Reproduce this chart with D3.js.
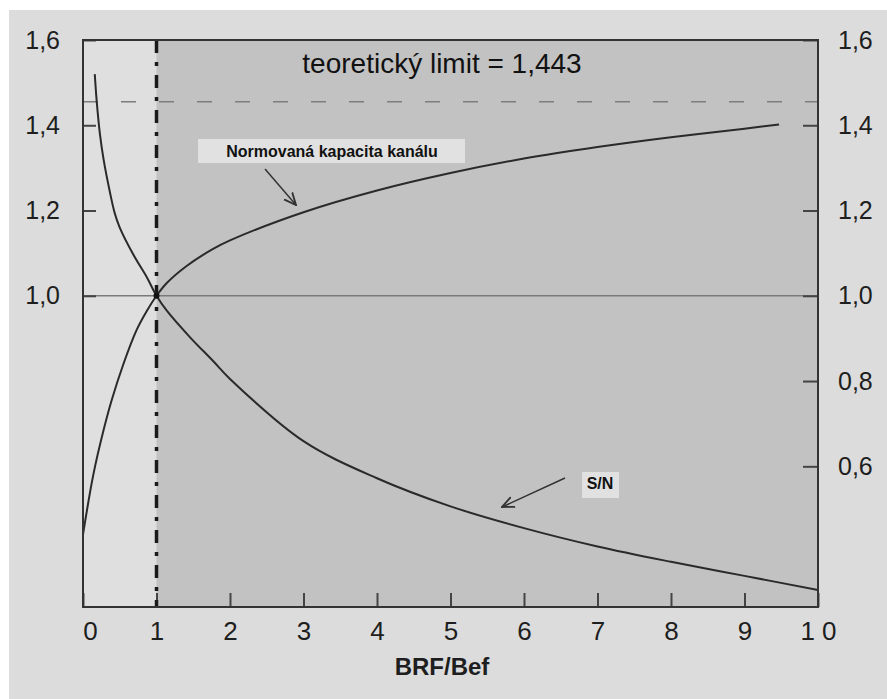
<!DOCTYPE html>
<html>
<head>
<meta charset="utf-8">
<script src="https://cdn.jsdelivr.net/npm/d3@7"></script>
<style>
  body { margin: 0; background: #fff; }
  svg { display: block; font-family: "Liberation Sans", Arial, sans-serif; }
  .axis text { fill: #1e1e1e; }
</style>
</head>
<body>
<svg id="chart" width="887" height="699"></svg>
<script>
// values
var xTicks = [0, 1, 2, 3, 4, 5, 6, 7, 8, 9, 10];
var xTickLabels = ["0", "1", "2", "3", "4", "5", "6", "7", "8", "9", "1 0"];
var leftTicks = [1.0, 1.2, 1.4, 1.6];
var rightTicks = [0.6, 0.8, 1.0, 1.2, 1.4, 1.6];

// normovana kapacita kanalu
var capX = [0, 0.14, 0.28, 0.39, 0.55, 0.73, 0.87, 1.0, 1.14, 1.41, 1.77, 2, 3, 4, 5, 6, 7, 8, 9, 9.47];
var capY = [0.44, 0.58, 0.685, 0.755, 0.84, 0.92, 0.965, 1.0, 1.03, 1.07, 1.11, 1.13, 1.196, 1.247, 1.288, 1.322, 1.349, 1.372, 1.392, 1.402];

// S/N
var snrX = [0.16, 0.18, 0.2, 0.23, 0.28, 0.37, 0.43, 0.5, 0.69, 0.87, 1.0, 1.14, 1.46, 1.77, 2, 3, 4, 5, 6, 7, 8, 9, 10];
var snrY = [1.52, 1.47, 1.43, 1.38, 1.32, 1.24, 1.195, 1.16, 1.095, 1.043, 1.0, 0.965, 0.902, 0.847, 0.805, 0.659, 0.572, 0.506, 0.455, 0.412, 0.376, 0.343, 0.31];

var limitValue = 1.455;   // where the dashed line sits
var bandStart = 1;        // dash-dot marker / shaded band

var svg = d3.select("#chart");

// (window.top is read only, so no plain "top" here)
var pLeft = 83, pRight = 818, pTop = 40, pBottom = 607;

var x = d3.scaleLinear().domain([0, 10]).range([pLeft, pRight]);
var y = d3.scaleLinear().domain([0.27, 1.6]).range([pBottom, pTop]);

var cz = d3.formatLocale({ decimal: ",", thousands: " ", grouping: [3], currency: ["", " Kč"] });
var fmt = cz.format(".1f");

// background
svg.append("rect")
    .attr("x", 9).attr("y", 10)
    .attr("width", 887 - 9).attr("height", 699 - 10)
    .attr("fill", "#dcdcdc");

// plot area - light part then shaded part
svg.append("rect")
    .attr("x", x(0)).attr("y", pTop)
    .attr("width", x(bandStart) - x(0)).attr("height", pBottom - pTop)
    .attr("fill", "#dfdfdf");

svg.append("rect")
    .attr("x", x(bandStart)).attr("y", pTop)
    .attr("width", x(10) - x(bandStart)).attr("height", pBottom - pTop)
    .attr("fill", "#c2c2c2");

// horizontal line at 1,0
svg.append("line")
    .attr("x1", x(0)).attr("x2", x(10))
    .attr("y1", y(1)).attr("y2", y(1))
    .attr("stroke", "#7a7a7a")
    .attr("stroke-width", 1.6);

// dashed theoretical limit
svg.append("line")
    .attr("x1", x(0)).attr("x2", x(10))
    .attr("y1", y(limitValue)).attr("y2", y(limitValue))
    .attr("stroke", "#7d7d7d")
    .attr("stroke-width", 1.6)
    .attr("stroke-dasharray", "15,23");

// axes
var xAxis = d3.axisBottom(x)
    .tickValues(xTicks)
    .tickSize(-14)
    .tickPadding(15)
    .tickFormat(function(d, i) { return xTickLabels[i]; });

var gx = svg.append("g")
    .attr("class", "axis")
    .attr("transform", "translate(0," + pBottom + ")")
    .call(xAxis);
gx.selectAll("text").attr("font-size", 26).attr("dx", function(d) { return d === 0 ? 7 : 0; });

var gl = svg.append("g")
    .attr("class", "axis")
    .attr("transform", "translate(" + pLeft + ",0)")
    .call(d3.axisLeft(y).tickValues(leftTicks).tickSize(-13).tickPadding(23).tickFormat(fmt));
gl.selectAll("text").attr("font-size", 25);

var gr = svg.append("g")
    .attr("class", "axis")
    .attr("transform", "translate(" + pRight + ",0)")
    .call(d3.axisRight(y).tickValues(rightTicks).tickSize(-15).tickPadding(20).tickFormat(fmt));
gr.selectAll("text").attr("font-size", 25);

svg.selectAll(".axis .domain").remove();
svg.selectAll(".axis line").attr("stroke", "#444").attr("stroke-width", 2);

// dash-dot line at x = 1
svg.append("line")
    .attr("x1", x(bandStart)).attr("x2", x(bandStart))
    .attr("y1", pTop).attr("y2", pBottom)
    .attr("stroke", "#1a1a1a")
    .attr("stroke-width", 3.5)
    .attr("stroke-dasharray", "13,9,4,9");

// curves
var line = d3.line()
    .x(function(d) { return x(d[0]); })
    .y(function(d) { return y(d[1]); })
    .curve(d3.curveCatmullRom.alpha(0.5));

svg.append("path")
    .datum(d3.zip(capX, capY))
    .attr("d", line)
    .attr("fill", "none")
    .attr("stroke", "#2a2a2a")
    .attr("stroke-width", 2);

svg.append("path")
    .datum(d3.zip(snrX, snrY))
    .attr("d", line)
    .attr("fill", "none")
    .attr("stroke", "#2a2a2a")
    .attr("stroke-width", 2);

svg.append("circle")
    .attr("cx", x(1)).attr("cy", y(1)).attr("r", 3)
    .attr("fill", "#111");

// frame
svg.append("rect")
    .attr("x", pLeft).attr("y", pTop)
    .attr("width", pRight - pLeft).attr("height", pBottom - pTop)
    .attr("fill", "none")
    .attr("stroke", "#333")
    .attr("stroke-width", 2);

// title inside plot
svg.append("text")
    .attr("x", 442).attr("y", 73)
    .attr("text-anchor", "middle")
    .attr("font-size", 28)
    .attr("fill", "#111")
    .text("teoretický limit = 1,443");

// x axis title
svg.append("text")
    .attr("x", 442).attr("y", 675)
    .attr("text-anchor", "middle")
    .attr("font-size", 24)
    .attr("font-weight", "bold")
    .attr("fill", "#1e1e1e")
    .text("BRF/Bef");

// arrow marker
svg.append("defs").append("marker")
    .attr("id", "arrow")
    .attr("viewBox", "0 0 10 10")
    .attr("refX", 9).attr("refY", 5)
    .attr("markerWidth", 9).attr("markerHeight", 9)
    .attr("orient", "auto")
  .append("path")
    .attr("d", "M0,1 L9,5 L0,9")
    .attr("fill", "none")
    .attr("stroke", "#333")
    .attr("stroke-width", 1.4);

// callout labels
var callouts = [
  { text: "Normovaná kapacita kanálu", bx: 198, by: 139, bw: 267, bh: 24, tx: 332, ty: 157, ax1: 265, ay1: 169, ax2: 296, ay2: 205 },
  { text: "S/N", bx: 582, by: 472, bw: 37, bh: 26, tx: 600, ty: 489, ax1: 565, ay1: 478, ax2: 502, ay2: 507 }
];

callouts.forEach(function(c) {
  svg.append("rect")
      .attr("x", c.bx).attr("y", c.by)
      .attr("width", c.bw).attr("height", c.bh)
      .attr("fill", "#e1e1e1");
  svg.append("text")
      .attr("x", c.tx).attr("y", c.ty)
      .attr("text-anchor", "middle")
      .attr("font-size", 16)
      .attr("font-weight", "bold")
      .attr("fill", "#111")
      .text(c.text);
  svg.append("line")
      .attr("x1", c.ax1).attr("y1", c.ay1)
      .attr("x2", c.ax2).attr("y2", c.ay2)
      .attr("stroke", "#333")
      .attr("stroke-width", 1.5)
      .attr("marker-end", "url(#arrow)");
});
</script>
</body>
</html>
